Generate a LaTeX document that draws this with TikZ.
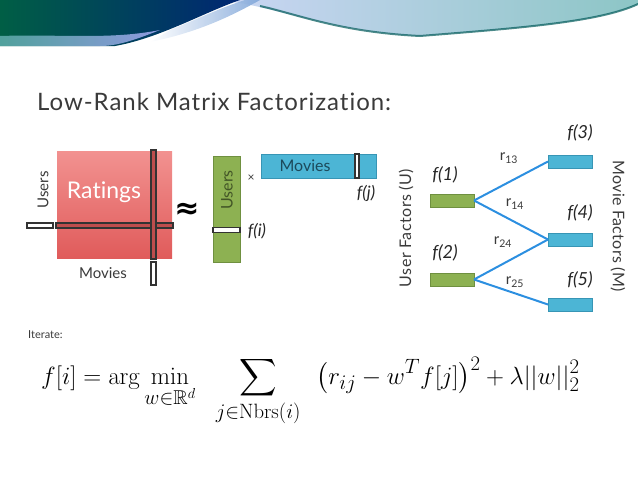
\documentclass[tikz,border=0pt]{standalone}
\usepackage{amsmath,amssymb}
\usepackage[no-math]{fontspec}
\setmainfont{Lato}[Ligatures={NoCommon,NoRare,NoDiscretionary}]
\newfontfamily\djv{DejaVu Sans}
\DeclareMathSizes{26}{26}{20}{15}
\definecolor{txt}{HTML}{3A3A3A}
\definecolor{redA}{HTML}{F29290}
\definecolor{redB}{HTML}{E05B5B}
\definecolor{grn}{HTML}{8DB152}
\definecolor{grnD}{HTML}{6F9040}
\definecolor{blu}{HTML}{4CB5D5}
\definecolor{bluD}{HTML}{3795B5}
\definecolor{edgec}{HTML}{2C8FE0}
\tikzset{
  box/.style={inner sep=0pt,outer sep=0pt,minimum width=#1},
  strip/.style={inner sep=0pt,outer sep=0pt,draw=black!80,line width=1.1pt},
  gbox/.style={inner sep=0pt,outer sep=0pt,minimum width=44pt,minimum height=13pt,fill=grn,draw=grnD,line width=0.6pt},
  bbox/.style={inner sep=0pt,outer sep=0pt,minimum width=44pt,minimum height=13pt,fill=blu,draw=bluD,line width=0.6pt},
  edge/.style={draw=edgec,line width=2pt},
  lbl/.style={text=txt,inner sep=0pt},
  fl/.style={text=black!85,inner sep=0pt,font=\fontsize{18}{20}\selectfont\itshape},
  rl/.style={text=txt,inner sep=0pt,font=\fontsize{15}{17}\selectfont},
}
\begin{document}
\begin{tikzpicture}[x=1pt,y=-1pt]
\useasboundingbox (0,0) rectangle (638,479);
% header swoosh
\shade[left color=teal!40!blue!20!white,right color=teal!45!white] (215,0) -- (638,0) -- (638,4) .. controls (600,22) and (520,28) .. (420,36) .. controls (340,32) and (290,12) .. (240,3) -- cycle;
\draw[teal!70!black,line width=2pt,opacity=0.7] (638,4) .. controls (600,22) and (520,28) .. (420,36) .. controls (340,32) and (300,15) .. (260,6);
\shade[left color=teal!60!black!90!green,right color=blue!50!teal!60!black] (0,0) -- (240,0) .. controls (205,12) and (160,38) .. (115,46) -- (0,46) -- cycle;
\shade[left color=teal!60!white,right color=blue!30!white,opacity=0.8] (0,36) .. controls (60,34) and (110,40) .. (160,30) .. controls (130,42) and (115,46) .. (100,46) -- (0,46) -- cycle;
\shade[left color=white,right color=blue!40!teal!50!white,opacity=0.9] (170,30) .. controls (200,18) and (220,8) .. (245,0) -- (260,0) .. controls (235,14) and (200,32) .. (150,42) -- cycle;
% title
\node[lbl,anchor=base west,font=\fontsize{24}{27}\selectfont\addfontfeature{LetterSpace=4}] (title) at (37,110) {Low-Rank Matrix Factorization:};
% ratings matrix
\node[box=115pt,minimum height=107pt,top color=redA,bottom color=redB] (R) at (114.5,204.5) {};
\node[text=white,inner sep=0pt,font=\fontsize{23}{26}\selectfont] (rt) at (104,192) {Ratings};
\node[strip,fill=redB!85!black,minimum width=117pt,minimum height=5pt] (hs) at (114.5,225.5) {};
\node[strip,fill=redB!85!black,minimum width=5pt,minimum height=109pt] (vs) at (153.5,204.5) {};
\node[strip,fill=white,minimum width=26pt,minimum height=5pt] (lb) at (40,225.5) {};
\node[strip,fill=white,minimum width=5pt,minimum height=23pt] (bb) at (153.5,273.5) {};
\node[lbl,rotate=90,font=\fontsize{15}{17}\selectfont] (ru) at (43,190) {Users};
\node[lbl,font=\fontsize{15}{17}\selectfont] (rm) at (103,273) {Movies};
\node[inner sep=0pt,font=\djv\bfseries\fontsize{30}{32}\selectfont] (ap) at (187,211) {≈};
% user factor matrix
\node[box=27pt,minimum height=106pt,fill=grn,draw=grnD,line width=0.5pt] (U) at (226.5,209) {};
\node[lbl,rotate=90,text=grnD!60!black,font=\fontsize{16}{18}\selectfont] (ut) at (227,190) {Users};
\node[strip,fill=white,minimum width=27pt,minimum height=5pt] (ub) at (226.5,230) {};
\node[fl,font=\fontsize{17}{19}\selectfont\itshape] (fi) at (257,231) {f(i)};
\node[lbl,font=\fontsize{12}{14}\selectfont] (x) at (251,178) {×};
% movie factor matrix
\node[box=115pt,minimum height=24pt,fill=blu,draw=bluD,line width=0.5pt] (M) at (318.5,166) {};
\node[lbl,text=bluD!50!black,font=\fontsize{16}{18}\selectfont] (mt) at (305,166) {Movies};
\node[strip,fill=white,minimum width=4pt,minimum height=24pt] (mb) at (357,166) {};
\node[fl,font=\fontsize{17}{19}\selectfont\itshape] (fj) at (366,193) {f(j)};
% bipartite graph
\node[gbox] (g1) at (452,200.5) {};
\node[gbox] (g2) at (452,279.5) {};
\node[bbox] (b3) at (570,161.5) {};
\node[bbox] (b4) at (570,239.5) {};
\node[bbox] (b5) at (570,304.5) {};
\draw[edge] (g1.east) -- (b3.west);
\draw[edge] (g1.east) -- (b4.west);
\draw[edge] (g2.east) -- (b4.west);
\draw[edge] (g2.east) -- (b5.west);
\node[fl] (l1) at (445,175) {f(1)};
\node[fl] (l2) at (445,253) {f(2)};
\node[fl] (l3) at (580,133) {f(3)};
\node[fl] (l4) at (580,213) {f(4)};
\node[fl] (l5) at (580,280) {f(5)};
\node[rl] (r13) at (509,158) {r\textsubscript{13}};
\node[rl] (r14) at (515,204) {r\textsubscript{14}};
\node[rl] (r24) at (503,242) {r\textsubscript{24}};
\node[rl] (r25) at (515,282) {r\textsubscript{25}};
\node[lbl,rotate=90,font=\fontsize{16}{18}\selectfont\addfontfeature{LetterSpace=3}] (uf) at (406,228) {User Factors (U)};
\node[lbl,rotate=-90,font=\fontsize{16}{18}\selectfont\addfontfeature{LetterSpace=2}] (mf) at (618,226) {Movie Factors (M)};
% iterate
\node[lbl,anchor=west,font=\fontsize{11}{13}\selectfont] (it) at (28,335) {Iterate:};
\node[inner sep=0pt,anchor=base west,font=\fontsize{26}{30}\selectfont] (eq) at (41,384)
  {$\displaystyle f[i] = \arg\min_{w\in\mathbb{R}^d}\hspace{16pt} \sum_{j\in \mathrm{Nbrs}(i)}\hspace{16pt} \bigl(r_{ij}-w^T f[j]\bigr)^2 + \lambda||w||_2^2$};
\end{tikzpicture}
\end{document}
